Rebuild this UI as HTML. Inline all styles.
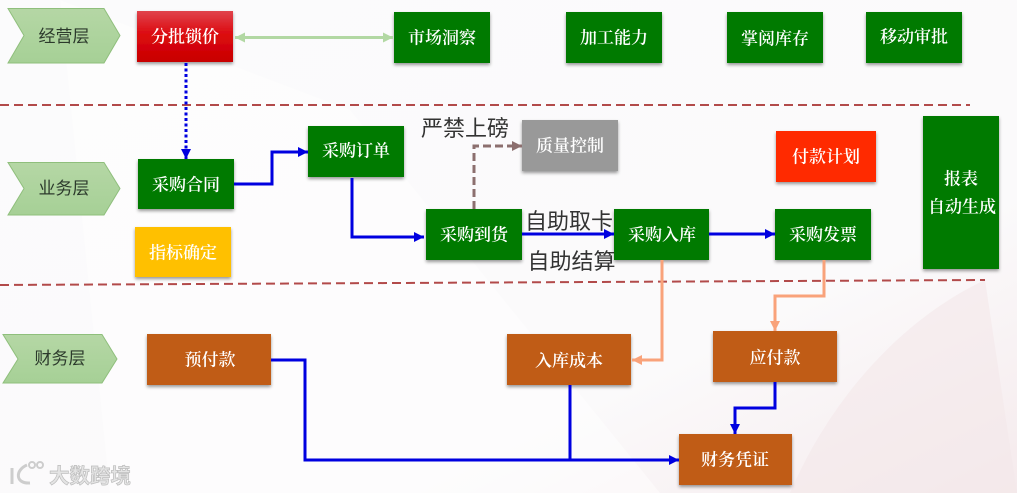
<!DOCTYPE html>
<html><head><meta charset="utf-8">
<style>
html,body{margin:0;padding:0;background:#fff}
svg{display:block}
text{font-family:"Liberation Sans","Noto Serif CJK SC","Noto Sans CJK SC",serif}
.b{fill:#fff;font-size:17px;text-anchor:middle;font-weight:600}
.c{fill:#2c3a2c;font-size:17px;text-anchor:middle;font-family:"Liberation Sans","Noto Sans CJK SC",sans-serif}
.f{fill:#333;font-size:22px;font-family:"Liberation Sans","Noto Sans CJK SC",sans-serif}
</style></head><body>
<svg width="1017" height="493" viewBox="0 0 1017 493" xmlns="http://www.w3.org/2000/svg">
<defs>
<linearGradient id="bg" x1="0" y1="0" x2="1" y2="1"><stop offset="0" stop-color="#fbfbfc"/><stop offset=".7" stop-color="#fbfafb"/><stop offset="1" stop-color="#f5eaec"/></linearGradient>
<linearGradient id="ch" x1="0" y1="0" x2="0" y2="1"><stop offset="0" stop-color="#b5d7a5"/><stop offset="1" stop-color="#a6d096"/></linearGradient>
<linearGradient id="red" x1="0" y1="0" x2="0" y2="1"><stop offset="0" stop-color="#e0444c"/><stop offset=".45" stop-color="#dc0a10"/><stop offset="1" stop-color="#c80000"/></linearGradient>
<filter id="s" x="-10%" y="-10%" width="120%" height="125%"><feDropShadow dx="0" dy="2" stdDeviation="1.6" flood-color="#000" flood-opacity=".4"/></filter>
<marker id="ab" markerUnits="userSpaceOnUse" markerWidth="11" markerHeight="11" refX="10" refY="5.5" orient="auto"><path d="M0 0.5L10 5.5L0 10.5z" fill="#0000e0"/></marker>
<marker id="ao" markerUnits="userSpaceOnUse" markerWidth="11" markerHeight="11" refX="10" refY="5.5" orient="auto"><path d="M0 0.5L10 5.5L0 10.5z" fill="#f9a27a"/></marker>
<marker id="ag" markerUnits="userSpaceOnUse" markerWidth="11" markerHeight="11" refX="10" refY="5.5" orient="auto-start-reverse"><path d="M0 0.5L10 5.5L0 10.5z" fill="#b2d8a3"/></marker>
<marker id="am" markerUnits="userSpaceOnUse" markerWidth="11" markerHeight="11" refX="10" refY="5.5" orient="auto"><path d="M0 0.5L10 5.5L0 10.5z" fill="#8c6f6f"/></marker>
</defs>
<rect width="1017" height="493" fill="url(#bg)"/>
<path d="M60 0L350 110L660 493H110z" fill="#fff" opacity=".45"/>
<path d="M790 493C830 400 900 320 985 280L1017 493z" fill="#f4e8ea" opacity=".6"/>

<!-- dashed separators -->
<path d="M0 105H970" stroke="#b24a4a" stroke-width="2" stroke-dasharray="9 5" fill="none"/>
<path d="M0 285L985 280" stroke="#b24a4a" stroke-width="2" stroke-dasharray="9 5" fill="none"/>

<!-- chevrons -->
<g stroke="#8fbf7c" fill="url(#ch)">
<path d="M8 8.500H104L120 35.500L104 63H8L24 35.500z"/>
<path d="M8 162.500H104L120 188.500L104 215H8L24 188.500z"/>
<path d="M3 334.500H102L117 359L102 383H3L18 359z"/>
</g>
<text class="c" x="64" y="42">经营层</text>
<text class="c" x="64" y="194">业务层</text>
<text class="c" x="60" y="364">财务层</text>

<!-- boxes -->
<g filter="url(#s)">
<rect x="137" y="11" width="96" height="51" fill="url(#red)"/>
<g fill="#007a00">
<rect x="394" y="12" width="96" height="51"/>
<rect x="566" y="12" width="96" height="51"/>
<rect x="727" y="12" width="96" height="51"/>
<rect x="866" y="12" width="96" height="51"/>
<rect x="138" y="159" width="96" height="50"/>
<rect x="308" y="126" width="96" height="51"/>
<rect x="426" y="209" width="96" height="51"/>
<rect x="614" y="209" width="95" height="51"/>
<rect x="775" y="209" width="96" height="51"/>
<rect x="923" y="116" width="76" height="153"/>
</g>
<rect x="522" y="120" width="96" height="51" fill="#999"/>
<rect x="776" y="131" width="100" height="51" fill="#ff2a00"/>
<rect x="135" y="227" width="96" height="50" fill="#ffc000"/>
<g fill="#c05c14">
<rect x="147" y="334" width="124" height="51"/>
<rect x="507" y="334" width="124" height="51"/>
<rect x="713" y="331" width="124" height="51"/>
<rect x="679" y="434" width="113" height="51"/>
</g>
</g>

<!-- connectors -->
<g fill="none">
<path d="M235 37.500H393" stroke="#b2d8a3" stroke-width="3" marker-start="url(#ag)" marker-end="url(#ag)"/>
<path d="M186 63V159" stroke="#0000e0" stroke-width="3" stroke-dasharray="3 2.500" marker-end="url(#ab)"/>
<g stroke="#0000e0" stroke-width="3">
<path d="M234 184H272V152H308" marker-end="url(#ab)"/>
<path d="M352 178V237H424" marker-end="url(#ab)"/>
<path d="M522 234H614" marker-end="url(#ab)"/>
<path d="M709 234H775" marker-end="url(#ab)"/>
<path d="M271 360H305V460H679" marker-end="url(#ab)"/>
<path d="M570 385V460"/>
<path d="M775 382V408H735V434" marker-end="url(#ab)"/>
</g>
<path d="M474 209V146H522" stroke="#8c6f6f" stroke-width="3" stroke-dasharray="8 4" marker-end="url(#am)"/>
<g stroke="#f9a27a" stroke-width="3">
<path d="M662 260V360H632" marker-end="url(#ao)"/>
<path d="M824 260V296H775V331" marker-end="url(#ao)"/>
</g>
</g>

<!-- box labels -->
<g transform="translate(0 0.700)">
<text class="b" x="185" y="42">分批锁价</text>
<text class="b" x="442" y="43">市场洞察</text>
<text class="b" x="614" y="43">加工能力</text>
<text class="b" x="775" y="44">掌阅库存</text>
<text class="b" x="914" y="42">移动审批</text>
<text class="b" x="186" y="190">采购合同</text>
<text class="b" x="356" y="156">采购订单</text>
<text class="b" x="570" y="151">质量控制</text>
<text class="b" x="826" y="162">付款计划</text>
<text class="b" x="183" y="258">指标确定</text>
<text class="b" x="474" y="240">采购到货</text>
<text class="b" x="662" y="240">采购入库</text>
<text class="b" x="823" y="240">采购发票</text>
<text class="b" x="961" y="184">报表</text>
<text class="b" x="962" y="212">自动生成</text>
<text class="b" x="210" y="365">预付款</text>
<text class="b" x="569" y="366">入库成本</text>
<text class="b" x="775" y="363">应付款</text>
<text class="b" x="735" y="465">财务凭证</text>
</g>

<!-- free labels -->
<text class="f" x="421" y="136">严禁上磅</text>
<text class="f" x="525" y="229">自助取卡</text>
<text class="f" x="527.500" y="269">自助结算</text>

<!-- watermark -->
<g fill="none" stroke="#c9c9c9" stroke-width="3" opacity=".9">
<path d="M12 468V484"/><path d="M27 465C15 470 15 484 30 483"/>
<circle cx="32" cy="465" r="3" stroke-width="2"/><circle cx="40" cy="465" r="3" stroke-width="2"/>
</g>
<text x="49" y="483" font-size="20.500" fill="#e4e4e4" stroke="#bdbdbd" stroke-width=".7" style="font-family:'Liberation Sans','Noto Sans CJK SC',sans-serif;font-weight:700">大数跨境</text>
</svg>
</body></html>
